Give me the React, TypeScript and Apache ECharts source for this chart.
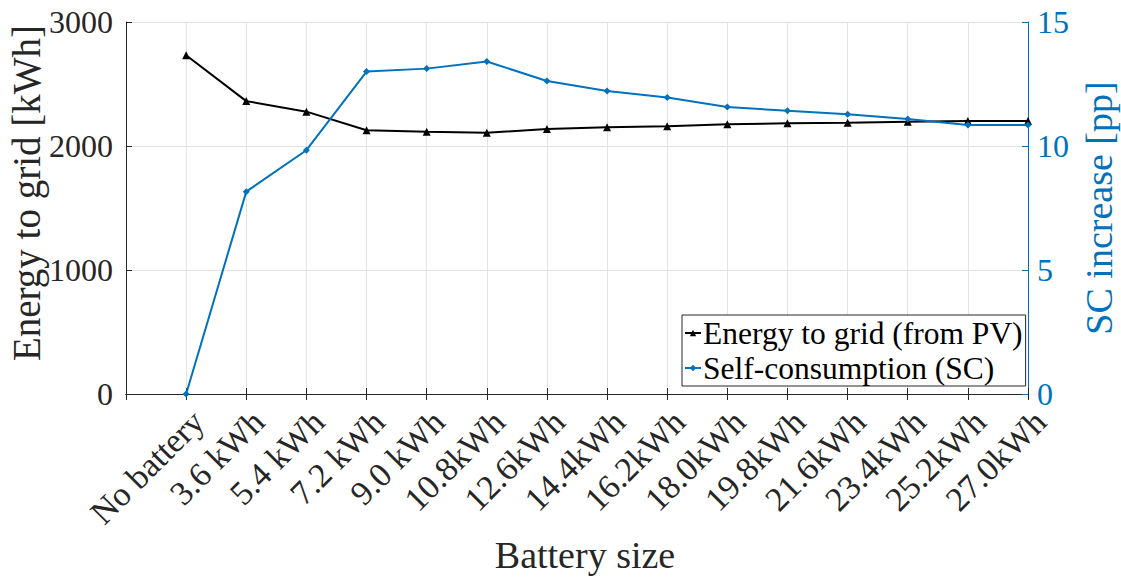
import React, { useEffect, useRef } from "react";
import * as echarts from "echarts";

const categories = [
  "",
  "No battery",
  "3.6 kWh",
  "5.4 kWh",
  "7.2 kWh",
  "9.0 kWh",
  "10.8kWh",
  "12.6kWh",
  "14.4kWh",
  "16.2kWh",
  "18.0kWh",
  "19.8kWh",
  "21.6kWh",
  "23.4kWh",
  "25.2kWh",
  "27.0kWh",
];

const energyToGrid = [2732, 2362, 2277, 2127, 2115, 2107, 2137, 2151, 2159, 2175, 2183, 2188, 2196, 2202, 2202];
const scIncrease = [0, 8.16, 9.83, 13.0, 13.12, 13.41, 12.62, 12.22, 11.96, 11.57, 11.42, 11.28, 11.09, 10.85, 10.85];

const leftTicks = { min: 0, max: 3000, interval: 1000 };
const rightTicks = { min: 0, max: 15, interval: 5 };

const FONT = "'Liberation Serif', 'Times New Roman', serif";
const AXIS_COLOR = "#262626";
const BLUE = "#0072BD";
const GRID_COLOR = "#e3e3e3";

export default function App() {
  const ref = useRef<HTMLDivElement>(null);

  useEffect(() => {
    if (!ref.current) return;
    const chart = echarts.init(ref.current, null, { renderer: "svg" });
    const dataCats = categories.slice(1);
    chart.setOption({
      animation: false,
      backgroundColor: "#ffffff",
      textStyle: { fontFamily: FONT },
      grid: { left: 126, right: 93, top: 22, bottom: 185, containLabel: false, outerBoundsMode: "none" },
      legend: {
        orient: "vertical",
        left: 682,
        top: 315,
        itemWidth: 16,
        itemHeight: 8,
        itemGap: 3,
        padding: [2, 3, 2, 2],
        borderColor: AXIS_COLOR,
        borderWidth: 1,
        backgroundColor: "#ffffff",
        textStyle: { fontFamily: FONT, fontSize: 31.5, color: "#000", padding: [0, 0, 0, -3] },
        data: ["Energy to grid (from PV)", "Self-consumption (SC)"],
      },
      xAxis: [
        {
          type: "category",
          data: categories,
          boundaryGap: false,
          axisLine: { show: true, lineStyle: { color: AXIS_COLOR, width: 1 } },
          axisTick: { show: true, inside: true, length: 6, interval: 0, lineStyle: { color: AXIS_COLOR } },
          axisLabel: {
            interval: 0,
            rotate: 45,
            fontFamily: FONT,
            fontSize: 34,
            color: AXIS_COLOR,
            margin: 10,
            verticalAlign: "top",
          },
          splitLine: { show: true, interval: 0, lineStyle: { color: GRID_COLOR, width: 1 } },
          name: "Battery size",
          nameLocation: "middle",
          nameGap: 142,
          nameMoveOverlap: false,
          nameTextStyle: { fontFamily: FONT, fontSize: 38, color: AXIS_COLOR, padding: [0, 0, 0, 16] },
        },
        {
          type: "category",
          data: categories,
          boundaryGap: false,
          position: "top",
          axisLine: { show: true, lineStyle: { color: AXIS_COLOR, width: 1 } },
          axisTick: { show: true, inside: true, length: 6, interval: 0, lineStyle: { color: AXIS_COLOR } },
          axisLabel: { show: false },
          splitLine: { show: false },
        },
      ],
      yAxis: [
        {
          type: "value",
          min: leftTicks.min,
          max: leftTicks.max,
          interval: leftTicks.interval,
          position: "left",
          axisLine: { show: true, lineStyle: { color: AXIS_COLOR, width: 1 } },
          axisTick: { show: true, inside: true, length: 6, lineStyle: { color: AXIS_COLOR } },
          axisLabel: { fontFamily: FONT, fontSize: 32, color: AXIS_COLOR, margin: 13, formatter: (v: number) => String(v) },
          splitLine: { show: true, lineStyle: { color: GRID_COLOR, width: 1 } },
          name: "Energy to grid [kWh]",
          nameLocation: "middle",
          nameRotate: 90,
          nameGap: 80,
          nameMoveOverlap: false,
          nameTextStyle: { fontFamily: FONT, fontSize: 39, color: AXIS_COLOR, padding: [0, 0, 0, 30] },
        },
        {
          type: "value",
          min: rightTicks.min,
          max: rightTicks.max,
          interval: rightTicks.interval,
          position: "right",
          axisLine: { show: true, lineStyle: { color: BLUE, width: 1 } },
          axisTick: { show: true, inside: true, length: 6, lineStyle: { color: BLUE } },
          axisLabel: { fontFamily: FONT, fontSize: 32, color: BLUE, margin: 9, formatter: (v: number) => String(v) },
          splitLine: { show: false },
          name: "SC increase [pp]",
          nameLocation: "middle",
          nameRotate: 90,
          nameGap: 52,
          nameMoveOverlap: false,
          nameTextStyle: { fontFamily: FONT, fontSize: 38, color: BLUE },
        },
      ],
      series: [
        {
          name: "Energy to grid (from PV)",
          type: "line",
          xAxisIndex: 0,
          yAxisIndex: 0,
          data: dataCats.map((c, i) => [c, energyToGrid[i]]),
          symbol: "triangle",
          symbolSize: 8,
          showAllSymbol: true,
          lineStyle: { color: "#000", width: 2 },
          itemStyle: { color: "#000" },
          z: 3,
        },
        {
          name: "Self-consumption (SC)",
          type: "line",
          xAxisIndex: 0,
          yAxisIndex: 1,
          data: dataCats.map((c, i) => [c, scIncrease[i]]),
          symbol: "diamond",
          symbolSize: 7,
          showAllSymbol: true,
          lineStyle: { color: BLUE, width: 2 },
          itemStyle: { color: BLUE },
          z: 4,
        },
      ],
    });
    return () => chart.dispose();
  }, []);

  return <div ref={ref} style={{ width: 1121, height: 579, position: "absolute", left: 0, top: 0 }} />;
}
